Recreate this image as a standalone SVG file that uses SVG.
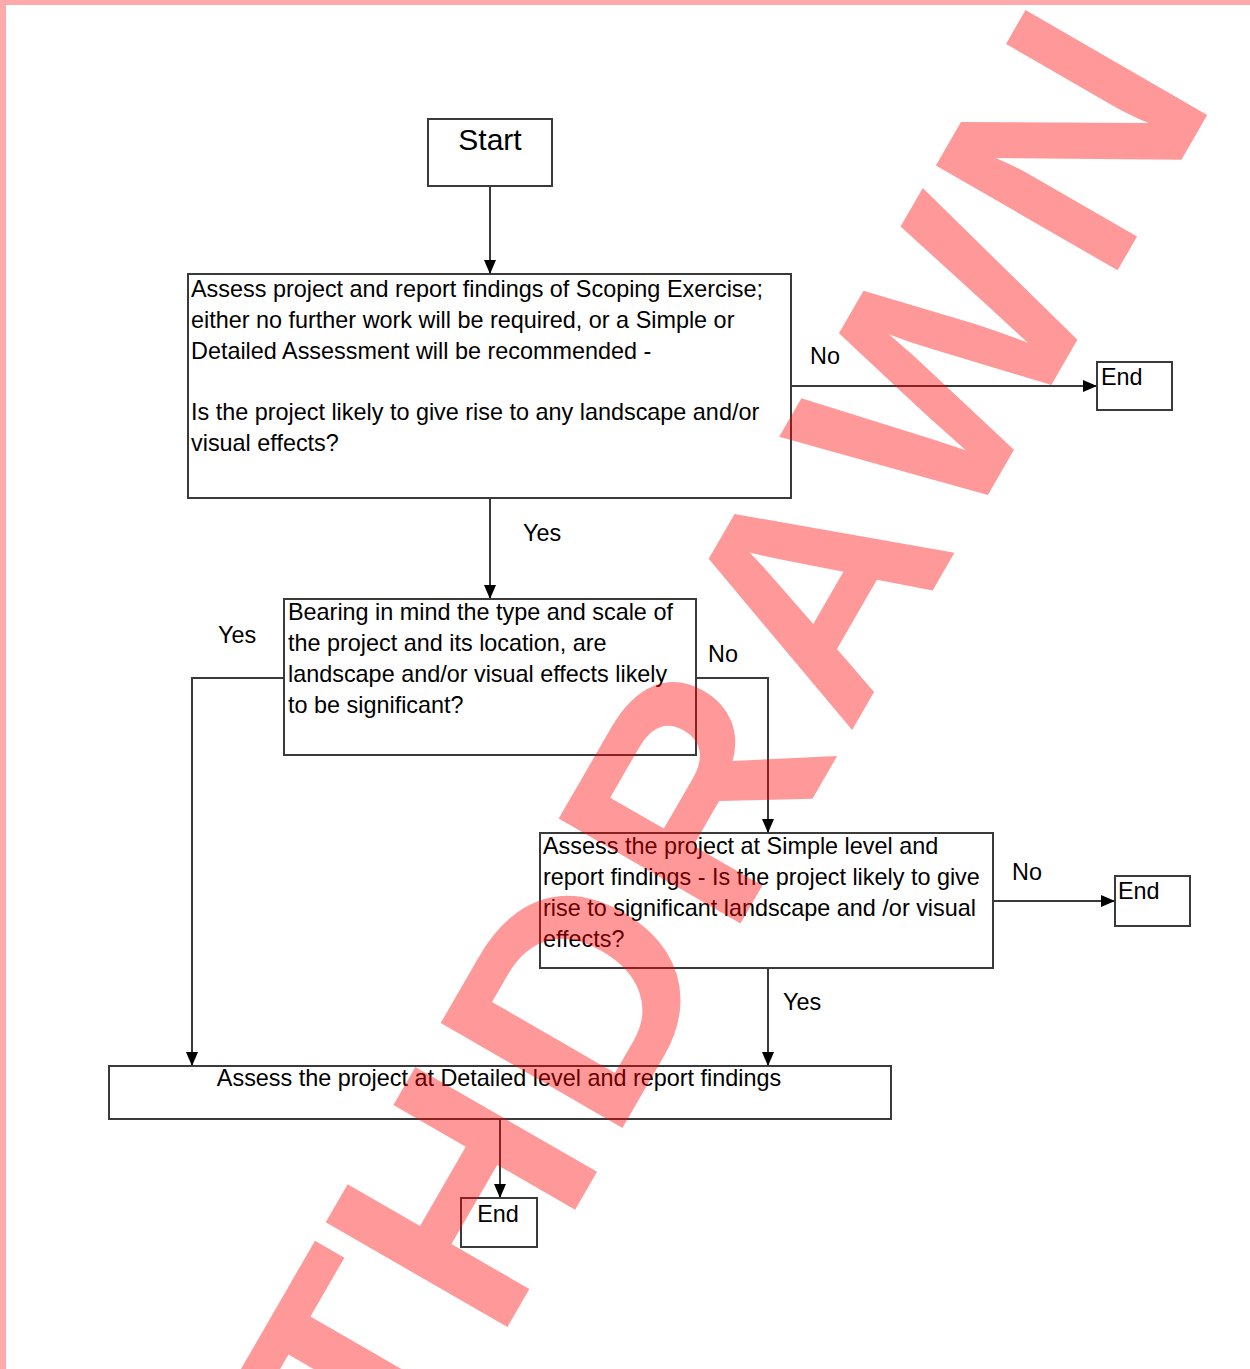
<svg xmlns="http://www.w3.org/2000/svg" width="1250" height="1369" viewBox="0 0 1250 1369">
<style>
.box{fill:#fff;stroke:#3a3a3a;stroke-width:2}
.t{font-family:"Liberation Sans",Arial,sans-serif;font-size:23.4px;fill:#000}
.big{font-family:"Liberation Sans",Arial,sans-serif;font-size:30px;fill:#000}
.ln{fill:none;stroke:#3a3a3a;stroke-width:2}
.wm{font-family:"Liberation Sans",Arial,sans-serif;font-weight:bold;font-size:305px;fill:#ff0000;fill-opacity:0.4}
</style>
<defs>
<marker id="arr" viewBox="0 0 14 14" refX="14" refY="7" markerWidth="14" markerHeight="14" markerUnits="userSpaceOnUse" orient="auto">
<path d="M0,1 L14,7 L0,13 z" fill="#000"/>
</marker>
</defs>
<rect x="0" y="0" width="1250" height="1369" fill="#fff"/>
<rect x="0" y="0" width="1250" height="5" fill="#ffaaaa"/>
<rect x="0" y="0" width="6" height="1369" fill="#ffaaaa"/>

<g id="connectors">
<line class="ln" x1="490" y1="186" x2="490" y2="274" marker-end="url(#arr)"/>
<line class="ln" x1="791" y1="386" x2="1097" y2="386" marker-end="url(#arr)"/>
<line class="ln" x1="490" y1="498" x2="490" y2="599" marker-end="url(#arr)"/>
<polyline class="ln" points="284,678 192,678 192,1066" marker-end="url(#arr)"/>
<polyline class="ln" points="696,678 768,678 768,833" marker-end="url(#arr)"/>
<line class="ln" x1="993" y1="901" x2="1115" y2="901" marker-end="url(#arr)"/>
<line class="ln" x1="768" y1="968" x2="768" y2="1066" marker-end="url(#arr)"/>
<line class="ln" x1="500" y1="1119" x2="500" y2="1198" marker-end="url(#arr)"/>
<text class="t" x="810" y="364">No</text>
<text class="t" x="523" y="541">Yes</text>
<text class="t" x="218" y="643">Yes</text>
<text class="t" x="708" y="662">No</text>
<text class="t" x="1012" y="880">No</text>
<text class="t" x="783" y="1010">Yes</text>
</g>

<g id="start">
<rect class="box" x="428" y="119" width="124" height="67"/>
<text class="big" x="490" y="150" text-anchor="middle">Start</text>
</g>

<g id="scoping">
<rect class="box" x="188" y="274" width="603" height="224"/>
<text class="t" x="191" y="297">Assess project and report findings of Scoping Exercise;</text>
<text class="t" x="191" y="328">either no further work will be required, or a Simple or</text>
<text class="t" x="191" y="359">Detailed Assessment will be recommended -</text>
<text class="t" x="191" y="420">Is the project likely to give rise to any landscape and/or</text>
<text class="t" x="191" y="451">visual effects?</text>
</g>

<g id="end1">
<rect class="box" x="1097" y="362" width="75" height="48"/>
<text class="t" x="1101" y="385">End</text>
</g>

<g id="significance">
<rect class="box" x="284" y="599" width="412" height="156"/>
<text class="t" x="288" y="620">Bearing in mind the type and scale of</text>
<text class="t" x="288" y="651">the project and its location, are</text>
<text class="t" x="288" y="682">landscape and/or visual effects likely</text>
<text class="t" x="288" y="713">to be significant?</text>
</g>

<g id="simple">
<rect class="box" x="540" y="833" width="453" height="135"/>
<text class="t" x="543" y="854">Assess the project at Simple level and</text>
<text class="t" x="543" y="885">report findings - Is the project likely to give</text>
<text class="t" x="543" y="916">rise to significant landscape and /or visual</text>
<text class="t" x="543" y="947">effects?</text>
</g>

<g id="end2">
<rect class="box" x="1115" y="876" width="75" height="50"/>
<text class="t" x="1118" y="899">End</text>
</g>

<g id="detailed">
<rect class="box" x="109" y="1066" width="782" height="53"/>
<text class="t" x="499" y="1086" text-anchor="middle">Assess the project at Detailed level and report findings</text>
</g>

<g id="end3">
<rect class="box" x="461" y="1198" width="76" height="49"/>
<text class="t" x="498" y="1222" text-anchor="middle">End</text>
</g>

<text class="wm" transform="rotate(-60)" x="-1493 -1195 -1100 -916 -686 -450 -213.8 11 304.3" y="1103">WITHDRAWN</text>
</svg>
